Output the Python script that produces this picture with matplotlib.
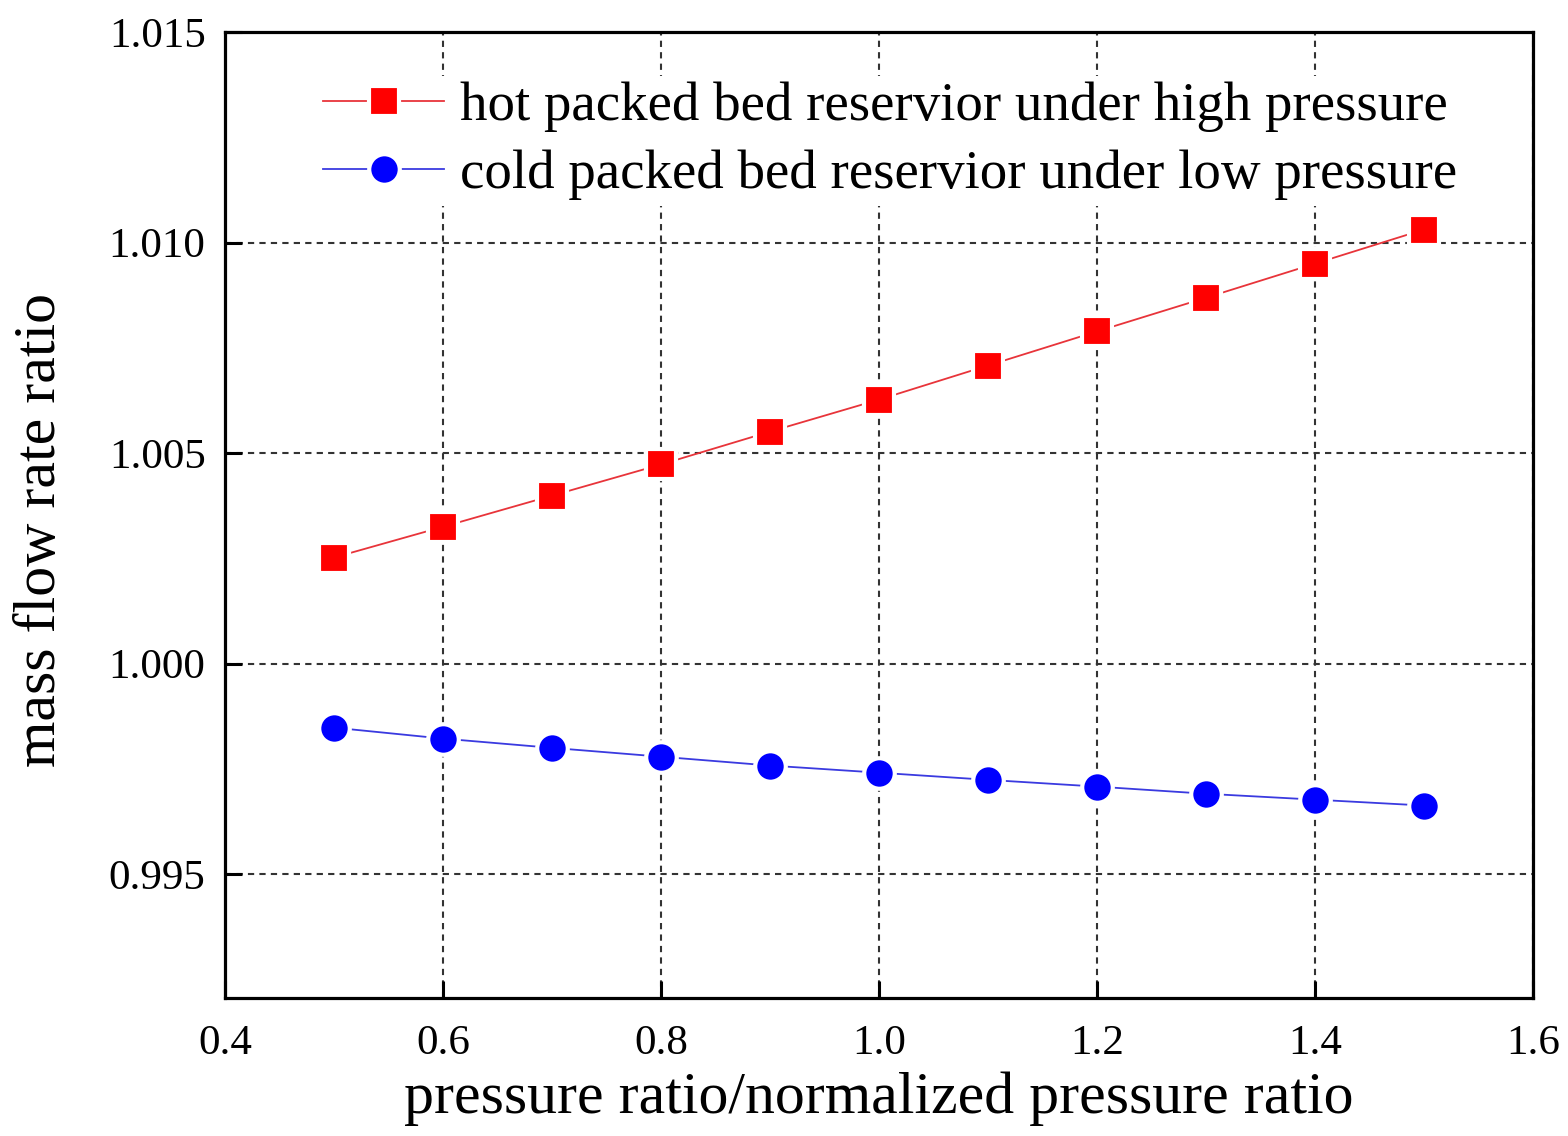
import matplotlib
matplotlib.use("Agg")
import matplotlib.pyplot as plt

x = [0.5, 0.6, 0.7, 0.8, 0.9, 1.0, 1.1, 1.2, 1.3, 1.4, 1.5]
hot = [1.00252, 1.00325, 1.00399, 1.00473, 1.00551, 1.00627, 1.00708, 1.00789, 1.00869, 1.00950, 1.01031]
cold = [0.99848, 0.99822, 0.99800, 0.99779, 0.99758, 0.99741, 0.99724, 0.99708, 0.99691, 0.99677, 0.99663]
xticks = [0.4, 0.6, 0.8, 1.0, 1.2, 1.4, 1.6]
yticks = [0.995, 1.000, 1.005, 1.010, 1.015]

plt.rcParams['font.family'] = ['Liberation Serif', 'DejaVu Serif']

fig = plt.figure(figsize=(15.68, 11.36), dpi=100)
ax = fig.add_axes([0.1435, 0.1215, 0.8342, 0.8503])

ax.plot(x, hot, color='#e8343a', lw=1.3, marker='s', ms=21, mfc='red', mec='white', mew=3,
        label='hot packed bed reservior under high pressure', zorder=3)
ax.plot(x, cold, color='#3a3ae0', lw=1.3, marker='o', ms=22, mfc='blue', mec='white', mew=3,
        label='cold packed bed reservior under low pressure', zorder=3)

ax.set_xlim(0.4, 1.6)
ax.set_ylim(0.99206, 1.015)
ax.set_xticks(xticks)
ax.set_xticklabels([f"{v:.1f}" for v in xticks])
ax.set_yticks(yticks)
ax.set_yticklabels([f"{v:.3f}" for v in yticks])
ax.tick_params(direction='in', length=12, width=2.2, labelsize=31)
ax.tick_params(axis='x', pad=19)
ax.tick_params(axis='y', pad=14)
for s in ax.spines.values():
    s.set_linewidth(2.3)
ax.grid(True, color='#333333', linestyle=(0, (3, 2.5)), lw=1.5)
ax.set_axisbelow(True)

ax.set_xlabel('pressure ratio/normalized pressure ratio', fontsize=43, labelpad=6)
ax.set_ylabel('mass flow rate ratio', fontsize=43)
ax.yaxis.set_label_coords(-0.12, 0.484)

leg = ax.legend(loc='upper left', bbox_to_anchor=(0.050, 0.983), fontsize=39.5, frameon=True,
                handlelength=2.2, handletextpad=0.3, labelspacing=0.33, borderpad=0.1)
leg.get_frame().set_edgecolor('none')
leg.get_frame().set_facecolor('white')
leg.get_frame().set_alpha(1.0)
leg.set_zorder(2.5)

fig.savefig('out.png', dpi=100)
